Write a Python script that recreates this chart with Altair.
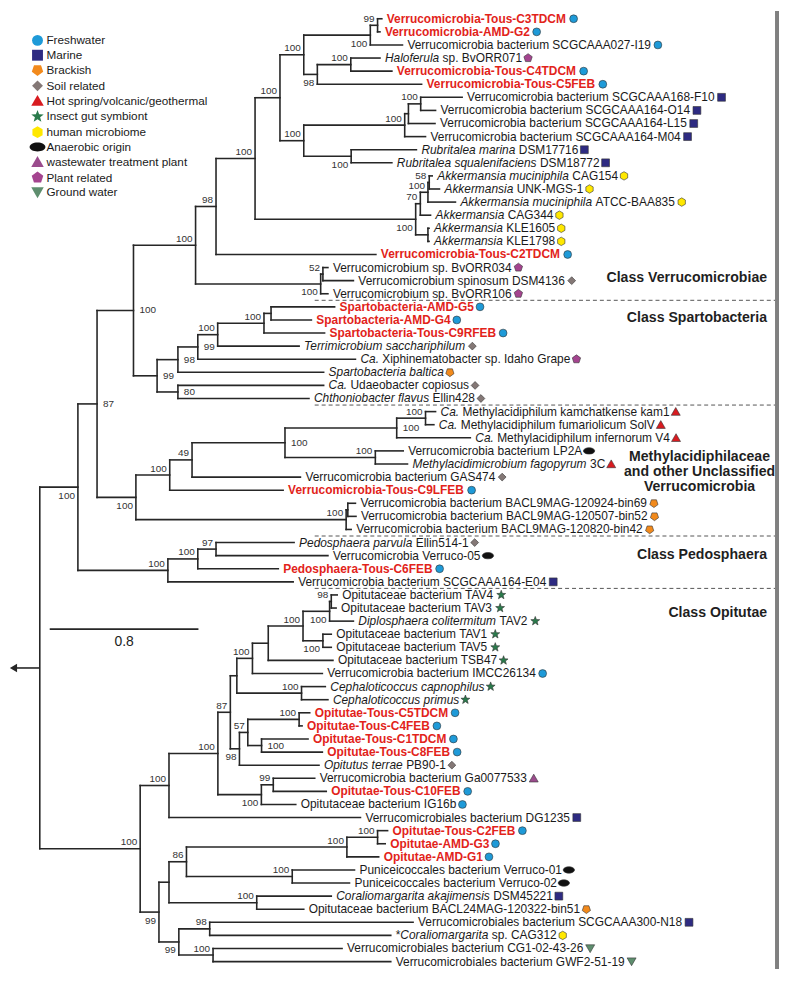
import math
import altair as alt
import pandas as pd

FONT = "Liberation Sans"

# ---------------- data ----------------
LEAF_LABELS = [
    "Verrucomicrobia-Tous-C3TDCM", "Verrucomicrobia-AMD-G2",
    "Verrucomicrobia bacterium SCGCAAA027-I19", "_Haloferula_ sp. BvORR071",
    "Verrucomicrobia-Tous-C4TDCM", "Verrucomicrobia-Tous-C5FEB",
    "Verrucomicrobia bacterium SCGCAAA168-F10", "Verrucomicrobia bacterium SCGCAAA164-O14",
    "Verrucomicrobia bacterium SCGCAAA164-L15", "Verrucomicrobia bacterium SCGCAAA164-M04",
    "_Rubritalea marina_ DSM17716", "_Rubritalea squalenifaciens_ DSM18772",
    "_Akkermansia muciniphila_ CAG154", "_Akkermansia_ UNK-MGS-1",
    "_Akkermansia muciniphila_ ATCC-BAA835", "_Akkermansia_ CAG344",
    "_Akkermansia_ KLE1605", "_Akkermansia_ KLE1798",
    "Verrucomicrobia-Tous-C2TDCM", "Verrucomicrobium sp. BvORR034",
    "Verrucomicrobium spinosum DSM4136", "Verrucomicrobium sp. BvORR106",
    "Spartobacteria-AMD-G5", "Spartobacteria-AMD-G4", "Spartobacteria-Tous-C9RFEB",
    "_Terrimicrobium sacchariphilum_", "_Ca._ Xiphinematobacter sp. Idaho Grape",
    "_Spartobacteria baltica_", "_Ca._ Udaeobacter copiosus", "_Chthoniobacter flavus_ Ellin428",
    "_Ca._ Methylacidiphilum kamchatkense kam1", "_Ca._ Methylacidiphilum fumariolicum SolV",
    "_Ca._ Methylacidiphilum infernorum V4", "Verrucomicrobia bacterium LP2A",
    "_Methylacidimicrobium fagopyrum_ 3C", "Verrucomicrobia bacterium GAS474",
    "Verrucomicrobia-Tous-C9LFEB", "Verrucomicrobia bacterium BACL9MAG-120924-bin69",
    "Verrucomicrobia bacterium BACL9MAG-120507-bin52", "Verrucomicrobia bacterium BACL9MAG-120820-bin42",
    "_Pedosphaera parvula_ Ellin514-1", "Verrucomicrobia Verruco-05", "Pedosphaera-Tous-C6FEB",
    "Verrucomicrobia bacterium SCGCAAA164-E04", "Opitutaceae bacterium TAV4",
    "Opitutaceae bacterium TAV3", "_Diplosphaera colitermitum_ TAV2", "Opitutaceae bacterium TAV1",
    "Opitutaceae bacterium TAV5", "Opitutaceae bacterium TSB47", "Verrucomicrobia bacterium IMCC26134",
    "_Cephaloticoccus capnophilus_", "_Cephaloticoccus primus_", "Opitutae-Tous-C5TDCM",
    "Opitutae-Tous-C4FEB", "Opitutae-Tous-C1TDCM", "Opitutae-Tous-C8FEB", "_Opitutus terrae_ PB90-1",
    "Verrucomicrobia bacterium Ga0077533", "Opitutae-Tous-C10FEB", "Opitutaceae bacterium IG16b",
    "Verrucomicrobiales bacterium DG1235", "Opitutae-Tous-C2FEB", "Opitutae-AMD-G3", "Opitutae-AMD-G1",
    "Puniceicoccales bacterium Verruco-01", "Puniceicoccales bacterium Verruco-02",
    "_Coraliomargarita akajimensis_ DSM45221", "Opitutaceae bacterium BACL24MAG-120322-bin51",
    "Verrucomicrobiales bacterium SCGCAAA300-N18", "*_Coraliomargarita_ sp. CAG312",
    "Verrucomicrobiales bacterium CG1-02-43-26", "Verrucomicrobiales bacterium GWF2-51-19",
]

LEAF_HABITAT = [
    "F", "F", "F", "P", "F", "F", "M", "M", "M", "M",
    "M", "M", "U", "U", "U", "U", "U", "U", "F", "P",
    "S", "P", "F", "F", "F", "S", "P", "B", "S", "S",
    "H", "H", "H", "A", "H", "S", "F", "B", "B", "B",
    "S", "A", "F", "M", "I", "I", "I", "I", "I", "I",
    "F", "I", "I", "F", "F", "F", "F", "S", "W", "F",
    "F", "M", "F", "F", "F", "A", "A", "M", "B", "M",
    "U", "G", "G",
]

LEAF_PARENT = [
    "n1", "n1", "n2", "n3", "n3", "n4", "n6", "n6", "n7", "n8",
    "n9", "n9", "na", "na", "nb", "nc", "ne", "ne", "n13", "n15",
    "n15", "n16", "n17", "n17", "n18", "n19", "n20", "n21", "n23", "n23",
    "n24", "n24", "n25", "n27", "n27", "n28", "n29", "n31a", "n31a", "n31",
    "n32", "n32", "n33", "n34", "n35", "n35", "n36", "n37", "n37", "n39",
    "n40", "n41", "n41", "n43", "n43", "n44", "n44", "n46", "n48", "n48",
    "n49", "n62", "n51", "n51", "n52", "n53", "n53", "n55", "n55", "n58",
    "n58", "n59", "n59",
]

# tip depth (distance from root, branch-length units)
LEAF_DEPTH = [
    1.840, 1.830, 1.951, 1.830, 1.894, 2.054, 2.272, 2.129, 2.126, 2.075,
    2.026, 1.894, 2.111, 2.150, 2.236, 2.102, 2.094, 2.094, 1.808, 1.550,
    1.687, 1.550, 1.586, 1.461, 1.532, 1.395, 1.698, 1.527, 1.527, 1.448,
    2.129, 2.120, 2.316, 1.955, 1.978, 1.402, 1.309, 1.698, 1.701, 1.675,
    1.368, 1.550, 1.283, 1.363, 1.600, 1.594, 1.687, 1.568, 1.568, 1.577,
    1.520, 1.536, 1.550, 1.452, 1.411, 1.443, 1.520, 1.502, 1.479, 1.541,
    1.377, 1.725, 1.871, 1.858, 1.823, 1.693, 1.666, 1.568, 1.420, 2.008,
    1.888, 1.626, 1.888,
]

# internal nodes: (id, parent, depth, bootstrap support, label placement)
NODES = [
    ("root", None, 0.000, "", ""),
    ("A", "root", 0.205, "100", "bl"),
    ("n87", "A", 0.308, "87", "r"),
    ("nVS", "n87", 0.504, "100", "r"),
    ("n14", "nVS", 0.838, "100", "al"),
    ("n13", "n14", 0.948, "98", "al"),
    ("n12", "n13", 1.158, "100", "al"),
    ("n11", "n12", 1.292, "100", "al"),
    ("n5", "n11", 1.420, "100", "al"),
    ("n2", "n5", 1.778, "100", "bl"),
    ("n1", "n2", 1.817, "99", "al"),
    ("n4", "n5", 1.493, "98", "bl"),
    ("n3", "n4", 1.673, "100", "al"),
    ("n10", "n11", 1.420, "100", "al"),
    ("n8", "n10", 1.963, "100", "al"),
    ("n7", "n8", 1.983, "", ""),
    ("n6", "n7", 2.049, "100", "al"),
    ("n9", "n10", 1.675, "100", "bl"),
    ("nd", "n12", 2.022, "100", "bl"),
    ("nc", "nd", 2.047, "70", "al"),
    ("nb", "nc", 2.088, "100", "al"),
    ("na", "nb", 2.095, "58", "al"),
    ("ne", "nd", 2.088, "", ""),
    ("n16", "n14", 1.511, "100", "bl"),
    ("n15", "n16", 1.523, "52", "al"),
    ("n22", "nVS", 0.631, "99", "r"),
    ("n21", "n22", 0.743, "98", "r"),
    ("n20", "n21", 0.850, "99", "r"),
    ("n19", "n20", 0.957, "100", "al"),
    ("n18", "n19", 1.206, "100", "al"),
    ("n17", "n18", 1.244, "", ""),
    ("n23", "n22", 0.743, "80", "r"),
    ("n30", "n87", 0.517, "100", "bl"),
    ("n29", "n30", 0.699, "100", "al"),
    ("n28", "n29", 0.819, "49", "al"),
    ("n26", "n28", 1.319, "100", "r"),
    ("n25", "n26", 1.920, "100", "r"),
    ("n24", "n25", 2.075, "100", "al"),
    ("n27", "n26", 1.805, "100", "al"),
    ("n31", "n30", 1.648, "100", "al"),
    ("n31a", "n31", 1.657, "", ""),
    ("n34", "A", 0.689, "100", "al"),
    ("n33", "n34", 0.850, "100", "al"),
    ("n32", "n33", 0.948, "97", "al"),
    ("n61", "root", 0.540, "100", "al"),
    ("n62", "n61", 0.695, "100", "al"),
    ("n50", "n62", 0.958, "100", "al"),
    ("n47", "n50", 1.025, "87", "al"),
    ("n42", "n47", 1.060, "", ""),
    ("n40", "n42", 1.144, "100", "al"),
    ("n39", "n40", 1.229, "", ""),
    ("n38", "n39", 1.416, "100", "al"),
    ("n36", "n38", 1.559, "100", "bl"),
    ("n35", "n36", 1.568, "98", "al"),
    ("n37", "n38", 1.523, "100", "bl"),
    ("n41", "n42", 1.408, "100", "al"),
    ("n46", "n47", 1.074, "98", "bl"),
    ("n45", "n46", 1.119, "57", "al"),
    ("n43", "n45", 1.395, "100", "al"),
    ("n44", "n45", 1.193, "100", "r"),
    ("n49", "n50", 1.192, "100", "bl"),
    ("n48", "n49", 1.256, "99", "al"),
    ("n57", "n61", 0.641, "99", "bl"),
    ("n56", "n57", 0.695, "", ""),
    ("n54", "n56", 0.789, "86", "al"),
    ("n52", "n54", 1.652, "100", "al"),
    ("n51", "n52", 1.817, "100", "al"),
    ("n53", "n54", 1.358, "100", "al"),
    ("n55", "n56", 1.167, "100", "al"),
    ("n60", "n57", 0.748, "99", "bl"),
    ("n58", "n60", 0.914, "98", "al"),
    ("n59", "n60", 0.932, "100", "al"),
]

HABITAT_CODES = ["F", "M", "B", "S", "H", "I", "U", "A", "W", "P", "G"]
HABITATS = ["Freshwater", "Marine", "Brackish", "Soil related",
            "Hot spring/volcanic/geothermal", "Insect gut symbiont", "human microbiome",
            "Anaerobic origin", "wastewater treatment plant", "Plant related", "Ground water"]
HABITAT_COLORS = ["#1e9ad8", "#2e2b82", "#f28a1c", "#847876", "#d81b20", "#2a7a4b",
                  "#ffe800", "#111111", "#9b4c8d", "#a4448f", "#5e8e6e"]

CLASS_LABELS_RIGHT = [("Class Verrucomicrobiae", 276.7), ("Class Spartobacteria", 317.3),
                      ("Class Pedosphaera", 555.7), ("Class Opitutae", 614.0)]
CLASS_LABELS_CENTER = [("Methylacidiphilaceae", 456.7), ("and other Unclassified", 471.5),
                       ("Verrucomicrobia", 486.7)]
SEPARATOR_AFTER_LEAF = [21, 29, 39, 43]
SCALE_BAR = 0.8

# ---------------- layout ----------------
W, H = 776, 964
P = 187.1                  # pixels per branch-length unit
ROOT_SX = 32.0
LEAF_SY0, LEAF_STEP = 7.7, 13.18
X_DOMAIN = [-ROOT_SX / P, (W - ROOT_SX) / P]
Y_DOMAIN = [-LEAF_SY0 / LEAF_STEP, (H - LEAF_SY0) / LEAF_STEP]
LEAF_FS = 12.0
GAP = 5.0
SYM_GAP = 6.0


def px_to_x(page_x):
    return (page_x - 8 - ROOT_SX) / P


def py_to_y(page_y):
    return (page_y - 8 - LEAF_SY0) / LEAF_STEP


REG_W = dict(zip("ABCDEFGHIJKLMNOPQRSTUVWXYZ",
                 [667, 667, 722, 722, 667, 611, 778, 722, 278, 500, 667, 556, 833, 722, 778, 667,
                  778, 722, 667, 611, 722, 667, 944, 667, 667, 611]))
REG_W.update(zip("abcdefghijklmnopqrstuvwxyz",
                 [556, 556, 500, 556, 556, 278, 556, 556, 222, 222, 500, 222, 833, 556, 556, 556,
                  556, 333, 500, 278, 556, 500, 722, 500, 500, 500]))
BOLD_W = dict(zip("ABCDEFGHIJKLMNOPQRSTUVWXYZ",
                  [722, 722, 722, 722, 667, 611, 778, 722, 278, 556, 722, 611, 833, 722, 778, 667,
                   778, 722, 667, 611, 722, 667, 944, 667, 667, 611]))
BOLD_W.update(zip("abcdefghijklmnopqrstuvwxyz",
                  [556, 611, 556, 611, 556, 333, 611, 611, 278, 278, 556, 278, 889, 611, 611, 611,
                   611, 389, 556, 333, 611, 556, 778, 556, 556, 500]))
for d in (REG_W, BOLD_W):
    d.update({c: 556 for c in "0123456789"})
    d.update({" ": 278, "-": 333, ".": 278, "*": 389, "/": 278})


def text_w(s, bold=False, size=LEAF_FS):
    tbl = BOLD_W if bold else REG_W
    return sum(tbl.get(c, 556) for c in s) * size / 1000.0


# ---------------- tree geometry ----------------
depth = {n[0]: n[2] for n in NODES}
children = {n[0]: [] for n in NODES}
for n in NODES:
    if n[1] is not None:
        children[n[1]].append(n[0])
for i, par in enumerate(LEAF_PARENT):
    children[par].append(i)
    depth[i] = LEAF_DEPTH[i]

ycache = {}


def ypos(k):
    if isinstance(k, int):
        return float(k)
    if k not in ycache:
        ys = [ypos(c) for c in children[k]]
        ycache[k] = (min(ys) + max(ys)) / 2.0
    return ycache[k]


segs = []
for n in NODES:
    nid = n[0]
    ys = [ypos(c) for c in children[nid]]
    segs.append({"x": depth[nid], "x2": depth[nid], "y": min(ys), "y2": max(ys)})
    if n[1] is not None:
        segs.append({"x": depth[n[1]], "x2": depth[nid], "y": ypos(nid), "y2": ypos(nid)})
for i in range(len(LEAF_LABELS)):
    segs.append({"x": depth[LEAF_PARENT[i]], "x2": depth[i], "y": float(i), "y2": float(i)})
seg_df = pd.DataFrame(segs)

sup_df = pd.DataFrame([{"x": n[2], "y": ypos(n[0]), "text": n[3], "pos": n[4]}
                       for n in NODES if n[3]])

# leaf labels split into roman / italic / bold-red runs
runs, syms = [], []
hab_name = dict(zip(HABITAT_CODES, HABITATS))
for i, lab in enumerate(LEAF_LABELS):
    novel = ("-Tous-" in lab) or ("-AMD-" in lab)
    offset = 0.0
    if novel:
        parts = [(lab, "novel")]
    else:
        pieces = lab.split("_")
        parts = [(p, "italic" if k % 2 == 1 else "roman") for k, p in enumerate(pieces) if p]
    for txt, style in parts:
        bold = style == "novel"
        stripped = txt.lstrip(" ")
        offset += text_w(txt[: len(txt) - len(stripped)], bold)
        txt = stripped.rstrip(" ")
        trail = text_w(stripped[len(txt):], bold)
        runs.append({"x": depth[i] + (GAP + offset) / P, "y": float(i), "text": txt, "style": style})
        offset += text_w(txt, bold) + trail
    syms.append({"x": depth[i] + (GAP + offset + SYM_GAP) / P, "y": float(i),
                 "habitat": hab_name[LEAF_HABITAT[i]]})
run_df = pd.DataFrame(runs)
sym_df = pd.DataFrame(syms)


# ---------------- symbols ----------------
def poly_path(n, r, start_deg):
    pts = []
    for k in range(n):
        a = math.radians(start_deg + 360.0 * k / n)
        pts.append((r * math.cos(a), r * math.sin(a)))
    return "M" + "L".join(f"{x:.3f},{y:.3f}" for x, y in pts) + "Z"


def star_path(r_out=1.2, r_in=0.5):
    pts = []
    for k in range(10):
        r = r_out if k % 2 == 0 else r_in
        a = -math.pi / 2 + k * math.pi / 5
        pts.append((r * math.cos(a), r * math.sin(a)))
    return "M" + "L".join(f"{x:.3f},{y:.3f}" for x, y in pts) + "Z"


SHAPES = [
    "circle",
    "square",
    poly_path(5, 1.1, 90),
    "diamond",
    "M0,-1.05L1.15,0.95L-1.15,0.95Z",
    star_path(),
    poly_path(6, 1.08, -90),
    "M-1.45,0A1.45,0.82,0,1,0,1.45,0A1.45,0.82,0,1,0,-1.45,0Z",
    "M0,-1.05L1.15,0.95L-1.15,0.95Z",
    poly_path(5, 1.12, -90),
    "M0,1.05L1.15,-0.95L-1.15,-0.95Z",
]

# ---------------- chart ----------------
xs = alt.X("x:Q", scale=alt.Scale(domain=X_DOMAIN, nice=False, zero=False), axis=None)
ys = alt.Y("y:Q", scale=alt.Scale(domain=Y_DOMAIN, nice=False, zero=False, reverse=True), axis=None)

branches = alt.Chart(seg_df).mark_rule(color="#262626", strokeWidth=1.6, strokeCap="square").encode(
    x=xs, x2="x2:Q", y=ys, y2="y2:Q")

sup_layers = []
for pos, align, dx, dy in [("al", "right", -3, -6.5), ("bl", "right", -3, 8.5), ("r", "left", 6, 0)]:
    sup_layers.append(
        alt.Chart(sup_df[sup_df["pos"] == pos]).mark_text(
            align=align, baseline="middle", dx=dx, dy=dy, fontSize=10, font=FONT, color="#333333"
        ).encode(x=xs, y=ys, text="text:N"))

run_layers = []
for style, kw in [("roman", dict(color="#1a1a1a")),
                  ("italic", dict(color="#1a1a1a", fontStyle="italic")),
                  ("novel", dict(color="#e2231a", fontWeight="bold"))]:
    run_layers.append(
        alt.Chart(run_df[run_df["style"] == style]).mark_text(
            align="left", baseline="middle", fontSize=LEAF_FS, font=FONT, **kw
        ).encode(x=xs, y=ys, text="text:N"))

legend = alt.Legend(title=None, orient="none", legendX=23.7, legendY=23.5, padding=0,
                    labelFont=FONT, labelFontSize=11.8, labelColor="#1a1a1a", labelLimit=400,
                    symbolSize=120, labelOffset=3, rowPadding=0.9, symbolStrokeColor="#333333",
                    symbolStrokeWidth=0.6, symbolOpacity=1)
symbols = alt.Chart(sym_df).mark_point(filled=True, size=62, opacity=1, stroke="#333333",
                                       strokeWidth=0.6).encode(
    x=xs, y=ys,
    color=alt.Color("habitat:N", scale=alt.Scale(domain=HABITATS, range=HABITAT_COLORS), legend=legend),
    shape=alt.Shape("habitat:N", scale=alt.Scale(domain=HABITATS, range=SHAPES), legend=legend),
)

sep_df = pd.DataFrame([{"x": px_to_x(316.7), "x2": px_to_x(780), "y": b + 0.5} for b in SEPARATOR_AFTER_LEAF])
separators = alt.Chart(sep_df).mark_rule(color="#555555", strokeWidth=1, strokeDash=[4, 3]).encode(
    x=xs, x2="x2:Q", y=ys)

cls_r = alt.Chart(pd.DataFrame([{"text": t, "y": py_to_y(py)} for t, py in CLASS_LABELS_RIGHT])).mark_text(
    align="right", baseline="middle", fontSize=14.2, fontWeight="bold", font=FONT, color="#1f1f1f"
).encode(x=alt.value(764), y=ys, text="text:N")
cls_c = alt.Chart(pd.DataFrame([{"text": t, "y": py_to_y(py)} for t, py in CLASS_LABELS_CENTER])).mark_text(
    align="center", baseline="middle", fontSize=14.2, fontWeight="bold", font=FONT, color="#1f1f1f"
).encode(x=alt.value(696), y=ys, text="text:N")

sb_x0 = px_to_x(50)
sb_df = pd.DataFrame([{"x": sb_x0, "x2": sb_x0 + SCALE_BAR, "y": py_to_y(630)}])
scalebar = alt.Chart(sb_df).mark_rule(color="#262626", strokeWidth=1.6).encode(x=xs, x2="x2:Q", y=ys)
sb_txt = alt.Chart(pd.DataFrame([{"x": sb_x0 + SCALE_BAR / 2, "y": py_to_y(643), "text": str(SCALE_BAR)}])
                   ).mark_text(fontSize=14, font=FONT, color="#222222", baseline="middle").encode(
    x=xs, y=ys, text="text:N")

root_y = ypos("root")
arrow_df = pd.DataFrame([{"x": 0.0, "x2": px_to_x(16), "y": root_y}])
arrow_line = alt.Chart(arrow_df).mark_rule(color="#262626", strokeWidth=1.6).encode(x=xs, x2="x2:Q", y=ys)
arrow_head = alt.Chart(pd.DataFrame([{"x": px_to_x(13.5), "y": root_y}])).mark_point(
    shape="triangle-left", filled=True, size=70, color="#262626", opacity=1).encode(x=xs, y=ys)

gray_bar = alt.Chart(pd.DataFrame([{"v": 1}])).mark_rule(color="#808080", strokeWidth=4).encode(
    x=alt.value(774), y=alt.value(0), y2=alt.value(H))

chart = alt.layer(
    separators, branches, arrow_line, arrow_head, scalebar, sb_txt,
    *sup_layers, *run_layers, symbols, cls_r, cls_c, gray_bar
).properties(width=W, height=H, padding=0, autosize="none").configure_view(stroke=None)

chart.save("out.html", embed_options={"renderer": "svg", "actions": False})
